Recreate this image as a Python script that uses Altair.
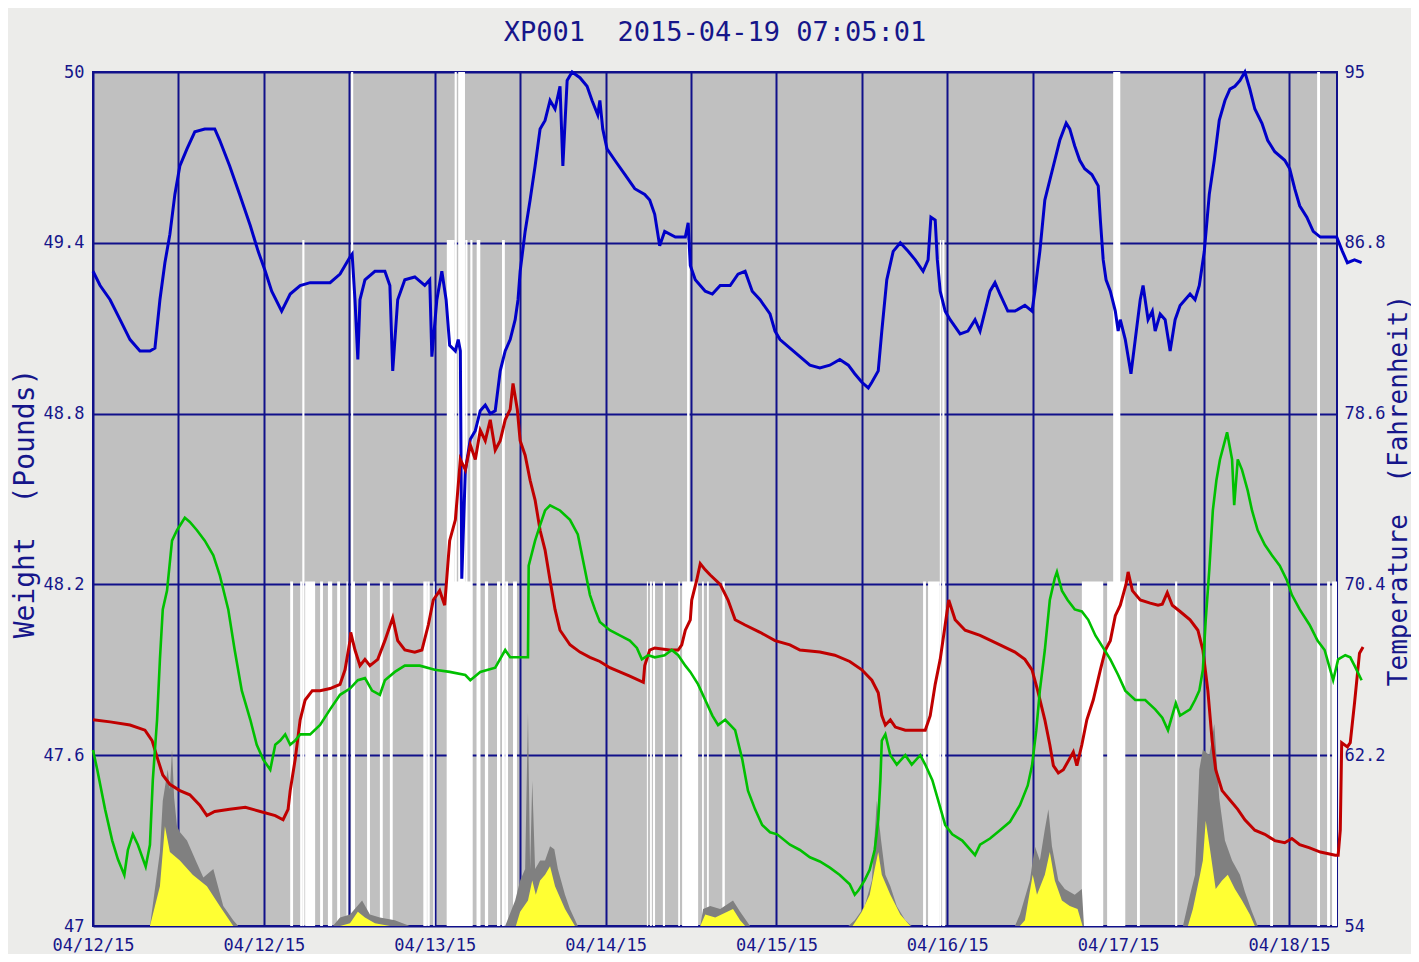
import json
import altair as alt
import pandas as pd

# ---------------- data ----------------
NBSP = "\u00a0"
title_text = "XP001" + NBSP + NBSP + "2015-04-19" + NBSP + "07:05:01"
left_title = "Weight" + NBSP + NBSP + "(Pounds)"
right_title = "Temperature" + NBSP + NBSP + "(Fahrenheit)"
x_tick_labels = ["04/12/15", "04/12/15", "04/13/15", "04/14/15",
                 "04/15/15", "04/16/15", "04/17/15", "04/18/15"]
grid_hours = [0, 12, 24, 36, 48, 60, 72, 84, 96, 108, 120, 132, 144, 156, 168]
w_ticks = [47, 47.6, 48.2, 48.8, 49.4, 50]
t_ticks = [54, 62.2, 70.4, 78.6, 86.8, 95]

# weight (pounds), hours since start
blue_h = [0.0, 1.0, 2.4, 3.8, 5.2, 6.6, 8.0, 8.7, 9.4, 10.1, 10.8, 11.5, 12.2, 13.2, 14.3, 15.7,
          17.1, 17.8, 19.2, 20.6, 22.1, 23.2, 24.2, 25.1, 26.5, 27.7, 29.1, 30.5, 31.9, 33.3,
          34.7, 36.1, 36.4, 36.8, 37.2, 37.5, 38.2, 39.6, 41.0, 41.7, 42.1, 42.8, 43.8, 45.2,
          46.6, 47.3, 47.6, 48.3, 49.0, 49.6, 50.1, 50.9, 51.3, 51.6, 51.8, 52.3, 53.0, 53.7,
          54.4, 55.1, 55.8, 56.5, 57.2, 57.9, 58.6, 59.3, 59.7, 60.0, 60.7, 61.4, 62.1, 62.8,
          63.5, 64.2, 64.9, 65.6, 66.0, 66.6, 67.3, 68.4, 69.4, 70.1, 70.9, 71.2, 71.6, 72.2,
          73.3, 74.7, 76.1, 77.5, 78.2, 78.9, 79.6, 80.3, 81.8, 83.2, 83.6, 83.9, 84.6, 86.0,
          87.0, 88.1, 89.5, 90.6, 91.6, 92.6, 93.7, 95.1, 95.8, 96.5, 97.9, 99.3, 100.7, 102.1,
          103.5, 104.9, 106.1, 107.0, 108.0, 108.9, 109.4, 110.3, 110.8, 111.5, 112.4, 113.4,
          114.5, 115.5, 116.6, 117.3, 117.7, 118.3, 118.6, 119.0, 119.7, 120.4, 121.8, 122.9,
          123.9, 124.6, 126.0, 126.7, 127.4, 128.5, 129.5, 130.9, 131.9, 132.3, 133.0, 133.7,
          134.4, 135.1, 135.8, 136.7, 137.2, 137.9, 138.6, 139.3, 140.3, 141.2, 141.5, 141.9,
          142.3, 142.9, 143.6, 144.0, 144.3, 145.0, 145.8, 146.4, 147.1, 147.5, 148.2, 148.8,
          149.2, 149.9, 150.6, 151.3, 152.0, 152.7, 153.4, 154.1, 154.8, 155.4, 156.1, 156.8,
          157.5, 158.2, 159.0, 159.7, 160.4, 161.1, 161.8, 162.5, 163.2, 164.2, 165.0, 166.0,
          167.4, 168.1, 168.8, 169.5, 170.5, 171.4, 172.4, 173.5, 174.7, 175.5, 176.2, 177.2,
          178.2]
blue_w = [49.30, 49.25, 49.20, 49.13, 49.06, 49.02, 49.02, 49.03, 49.20, 49.33, 49.43, 49.57,
          49.67, 49.73, 49.79, 49.80, 49.80, 49.76, 49.67, 49.57, 49.46, 49.37, 49.30, 49.23,
          49.16, 49.22, 49.25, 49.26, 49.26, 49.26, 49.29, 49.35, 49.36, 49.20, 48.99, 49.20,
          49.27, 49.30, 49.30, 49.25, 48.95, 49.20, 49.27, 49.28, 49.25, 49.27, 49.00, 49.20,
          49.30, 49.20, 49.04, 49.02, 49.06, 49.02, 48.22, 48.60, 48.71, 48.74, 48.81, 48.83,
          48.80, 48.81, 48.95, 49.02, 49.06, 49.13, 49.20, 49.30, 49.44, 49.55, 49.67, 49.80,
          49.83, 49.90, 49.87, 49.95, 49.67, 49.97, 50.00, 49.98, 49.95, 49.90, 49.85, 49.90,
          49.80, 49.73, 49.69, 49.64, 49.59, 49.57, 49.55, 49.50, 49.39, 49.44, 49.42, 49.42,
          49.47, 49.32, 49.27, 49.23, 49.22, 49.25, 49.25, 49.29, 49.30, 49.23, 49.20, 49.15,
          49.09, 49.06, 49.03, 49.00, 48.97, 48.96, 48.97, 48.99, 48.97, 48.94, 48.91, 48.89,
          48.91, 48.95, 49.09, 49.27, 49.37, 49.40, 49.37, 49.34, 49.30, 49.34, 49.49, 49.48,
          49.34, 49.23, 49.16, 49.13, 49.08, 49.09, 49.13, 49.09, 49.23, 49.26, 49.22, 49.16,
          49.16, 49.18, 49.16, 49.23, 49.37, 49.55, 49.62, 49.69, 49.76, 49.82, 49.80, 49.74,
          49.69, 49.66, 49.64, 49.60, 49.48, 49.34, 49.27, 49.23, 49.16, 49.09, 49.13, 49.06,
          48.94, 49.06, 49.20, 49.25, 49.13, 49.16, 49.09, 49.15, 49.13, 49.02, 49.13, 49.18,
          49.20, 49.22, 49.20, 49.25, 49.37, 49.57, 49.69, 49.83, 49.90, 49.94, 49.95, 49.97,
          50.00, 49.94, 49.87, 49.82, 49.76, 49.72, 49.69, 49.66, 49.59, 49.53, 49.49, 49.44,
          49.42, 49.42, 49.42, 49.37, 49.33, 49.34, 49.33]

# temperature (F) red series
red_h = [0.0, 2.4, 5.2, 7.3, 8.3, 9.1, 9.8, 10.8, 12.2, 13.6, 15.0, 16.0, 17.1, 19.2, 21.4,
         23.5, 25.6, 26.7, 27.4, 27.7, 28.4, 29.1, 29.8, 30.8, 31.9, 33.3, 34.7, 35.4, 36.1,
         36.2, 36.8, 37.5, 38.2, 38.9, 40.0, 41.0, 42.1, 42.8, 43.8, 45.2, 46.2, 47.1, 47.8,
         48.7, 49.4, 50.1, 50.9, 51.6, 52.3, 53.0, 53.7, 54.4, 55.1, 55.8, 56.5, 57.2, 57.9,
         58.6, 59.0, 59.6, 60.0, 60.7, 61.4, 62.1, 62.8, 63.5, 64.2, 64.9, 65.6, 67.0, 68.4,
         69.8, 71.2, 72.6, 74.0, 75.4, 77.3, 77.5, 78.2, 78.9, 81.0, 82.2, 82.7, 83.2, 83.9,
         84.1, 84.8, 85.3, 86.0, 86.7, 88.1, 89.2, 90.2, 91.6, 93.7, 95.8, 97.9, 99.3, 102.1,
         104.2, 106.3, 108.0, 109.4, 110.3, 110.8, 111.3, 112.0, 112.7, 114.1, 115.5, 116.9,
         117.6, 118.3, 119.0, 119.7, 120.2, 121.1, 122.5, 124.6, 127.4, 129.5, 130.9, 131.9,
         132.7, 133.7, 134.4, 134.9, 135.6, 136.3, 137.7, 138.2, 138.9, 139.6, 140.5, 141.5,
         142.2, 142.9, 143.6, 144.3, 145.1, 145.4, 146.0, 147.1, 148.5, 149.6, 150.2, 150.9,
         151.6, 152.7, 154.1, 155.2, 155.9, 156.6, 157.2, 157.7, 158.6, 159.7, 160.8, 161.8,
         163.2, 164.6, 166.0, 167.4, 168.4, 169.5, 170.9, 172.4, 174.5, 174.9, 175.2, 175.4,
         176.2, 176.6, 177.2, 177.9, 178.4]
red_t = [63.9, 63.8, 63.65, 63.4, 62.9, 62.0, 61.25, 60.8, 60.5, 60.3, 59.8, 59.3, 59.5, 59.6,
         59.7, 59.5, 59.3, 59.1, 59.6, 60.5, 62.0, 63.9, 64.85, 65.3, 65.3, 65.4, 65.6, 66.3,
         67.7, 68.1, 67.25, 66.5, 66.8, 66.5, 66.8, 67.7, 68.8, 67.7, 67.25, 67.15, 67.25, 68.45,
         69.65, 70.1, 69.4, 72.5, 73.5, 76.4, 75.9, 77.1, 76.4, 77.8, 77.3, 78.3, 76.85, 77.3,
         78.3, 78.8, 80.05, 78.8, 77.3, 76.6, 75.4, 74.45, 73.0, 72.05, 70.6, 69.2, 68.2, 67.5,
         67.15, 66.9, 66.7, 66.4, 66.2, 66.0, 65.7, 66.5, 67.25, 67.35, 67.25, 67.25, 67.5, 68.2,
         68.7, 69.65, 70.6, 71.4, 71.1, 70.85, 70.4, 69.65, 68.7, 68.45, 68.1, 67.7, 67.5, 67.25,
         67.15, 67.0, 66.7, 66.3, 65.8, 65.2, 64.1, 63.65, 63.9, 63.55, 63.4, 63.4, 63.4, 64.1,
         65.6, 66.8, 68.45, 69.65, 68.7, 68.2, 67.95, 67.5, 67.15, 66.8, 66.3, 65.3, 63.9, 62.7,
         61.7, 61.35, 61.5, 62.35, 61.7, 62.7, 63.9, 64.85, 66.3, 67.25, 67.7, 68.9, 69.4, 70.4,
         71.0, 70.1, 69.65, 69.5, 69.4, 69.45, 70.0, 69.4, 69.1, 68.7, 68.2, 67.25, 65.3, 62.9,
         61.5, 60.5, 60.05, 59.6, 59.1, 58.6, 58.4, 58.1, 58.0, 58.2, 57.9, 57.75, 57.55, 57.4,
         57.4, 58.6, 62.8, 62.6, 62.8, 64.7, 67.1, 67.4]

# temperature (F) green series
green_h = [0.0, 0.6, 1.7, 2.7, 3.5, 4.4, 4.9, 5.6, 6.3, 7.4, 8.0, 8.4, 9.0, 9.4, 9.8, 10.4,
           11.1, 11.8, 12.9, 13.6, 14.6, 15.7, 16.9, 17.8, 19.0, 19.9, 20.9, 22.1, 23.0, 23.9,
           24.9, 25.6, 26.3, 27.0, 27.7, 28.4, 29.1, 30.5, 31.9, 33.3, 34.7, 36.1, 37.2, 38.2,
           39.2, 40.3, 41.0, 42.4, 43.8, 45.9, 48.0, 50.1, 52.3, 53.0, 54.4, 56.5, 57.9, 58.6,
           60.0, 61.1, 61.2, 62.1, 62.8, 63.5, 64.2, 65.6, 67.0, 68.1, 69.1, 69.8, 70.5, 71.2,
           72.6, 74.0, 75.4, 76.4, 77.1, 78.0, 78.9, 80.3, 81.3, 82.2, 83.2, 83.9, 85.0, 86.0,
           87.0, 87.8, 88.8, 90.2, 91.2, 92.0, 93.0, 94.0, 95.1, 96.1, 97.9, 99.3, 100.7, 102.1,
           103.5, 104.9, 106.3, 107.0, 107.5, 108.4, 109.1, 109.8, 110.3, 110.6, 110.8, 111.3,
           112.0, 112.9, 114.1, 115.0, 116.2, 116.9, 117.9, 118.7, 119.7, 120.7, 122.1, 123.9,
           124.6, 126.0, 127.4, 128.8, 130.2, 131.3, 131.9, 132.5, 133.0, 133.7, 134.4, 135.1,
           135.4, 136.1, 136.9, 137.9, 138.9, 139.8, 140.8, 141.9, 142.9, 144.0, 145.0, 146.4,
           147.8, 149.2, 150.2, 151.0, 152.1, 152.7, 154.1, 154.8, 155.4, 155.9, 156.3, 156.8,
           157.3, 157.8, 158.3, 159.0, 159.3, 160.0, 160.3, 160.8, 161.4, 162.2, 162.8, 163.6,
           164.6, 165.6, 166.7, 167.7, 168.4, 169.5, 170.9, 172.0, 173.0, 174.2, 174.9, 175.9,
           176.6, 177.2, 178.2]
green_t = [62.45, 61.5, 59.6, 58.1, 57.2, 56.45, 57.65, 58.4, 57.9, 56.85, 57.9, 61.0, 63.9,
           66.8, 69.2, 70.1, 72.5, 73.0, 73.6, 73.4, 73.0, 72.5, 71.8, 70.85, 69.2, 67.25, 65.3,
           63.9, 62.7, 62.0, 61.5, 62.7, 62.9, 63.2, 62.7, 62.9, 63.2, 63.2, 63.65, 64.4, 65.1,
           65.4, 65.8, 65.9, 65.3, 65.1, 65.8, 66.2, 66.5, 66.5, 66.3, 66.2, 66.05, 65.8, 66.2,
           66.4, 67.25, 66.9, 66.9, 66.9, 71.3, 72.5, 73.25, 73.95, 74.2, 73.95, 73.5, 72.8, 71.1,
           69.9, 69.2, 68.6, 68.2, 67.95, 67.7, 67.35, 66.8, 67.0, 66.9, 67.0, 67.25, 67.0, 66.5,
           66.2, 65.6, 64.85, 64.1, 63.65, 63.9, 63.4, 62.0, 60.5, 59.6, 58.85, 58.5, 58.4, 57.9,
           57.65, 57.3, 57.1, 56.8, 56.45, 56.0, 55.5, 55.7, 56.2, 56.7, 57.65, 59.1, 61.0, 62.9,
           63.2, 62.2, 61.75, 62.2, 61.75, 62.2, 61.75, 61.0, 60.05, 58.85, 58.4, 58.1, 57.4,
           57.9, 58.2, 58.6, 59.0, 59.8, 60.75, 61.7, 63.4, 65.3, 67.25, 69.65, 70.7, 71.0, 70.1,
           69.65, 69.2, 69.1, 68.7, 67.95, 67.35, 66.8, 66.05, 65.3, 64.85, 64.85, 64.4, 64.0,
           63.4, 64.7, 64.1, 64.4, 64.85, 65.3, 66.3, 68.7, 71.1, 73.95, 75.4, 76.4, 77.3, 77.7,
           76.4, 74.2, 76.4, 75.9, 74.9, 73.95, 73.0, 72.3, 71.8, 71.3, 70.6, 69.9, 69.2, 68.45,
           67.7, 67.25, 65.8, 66.8, 67.0, 66.9, 66.5, 65.8]

# gray envelope (drawn on the weight scale)
gray_h = [0.0, 8.0, 9.4, 9.8, 10.5, 10.8, 11.1, 11.4, 11.8, 12.2, 13.2, 14.6, 15.5, 16.9, 18.3,
          19.7, 20.4, 33.7, 34.7, 36.1, 37.8, 38.9, 40.3, 42.4, 44.5, 57.9, 59.3, 60.0, 60.7,
          61.1, 61.4, 61.7, 62.1, 62.8, 63.5, 64.2, 64.8, 65.3, 66.3, 67.0, 68.1, 85.3, 85.7,
          86.7, 88.1, 89.9, 90.9, 92.3, 106.1, 107.0, 108.4, 109.4, 110.1, 110.7, 111.3, 112.0,
          112.9, 114.1, 115.0, 129.5, 130.2, 131.6, 132.3, 133.0, 133.7, 134.2, 134.7, 135.6,
          136.5, 137.9, 138.9, 139.2, 153.1, 154.1, 154.8, 155.4, 155.9, 156.8, 157.5, 158.2,
          159.0, 160.0, 161.1, 161.8, 162.8, 163.6, 174.7]
gray_v = [47.0, 47.0, 47.26, 47.44, 47.55, 47.48, 47.62, 47.45, 47.35, 47.33, 47.30, 47.22, 47.17,
          47.20, 47.07, 47.02, 47.0, 47.0, 47.03, 47.04, 47.09, 47.04, 47.03, 47.02, 47.0, 47.0,
          47.09, 47.16, 47.20, 47.75, 47.20, 47.51, 47.20, 47.23, 47.23, 47.28, 47.27, 47.20,
          47.11, 47.06, 47.0, 47.0, 47.06, 47.07, 47.06, 47.09, 47.05, 47.0, 47.0, 47.02, 47.07,
          47.16, 47.44, 47.30, 47.18, 47.14, 47.07, 47.02, 47.0, 47.0, 47.04, 47.16, 47.28,
          47.23, 47.34, 47.41, 47.28, 47.16, 47.13, 47.11, 47.13, 47.0, 47.0, 47.11, 47.18, 47.55,
          47.62, 47.60, 47.71, 47.45, 47.30, 47.23, 47.18, 47.12, 47.05, 47.0, 47.0]

# yellow envelope (drawn on the weight scale)
yellow_h = [0.0, 8.0, 9.4, 10.1, 10.8, 12.2, 14.0, 16.0, 17.8, 19.7, 34.7, 36.1, 37.2, 38.2,
            39.6, 41.7, 59.4, 60.0, 61.1, 61.7, 62.2, 62.8, 63.5, 64.2, 64.9, 66.3, 67.7, 85.3,
            86.0, 87.4, 89.9, 90.9, 91.6, 106.7, 108.0, 109.1, 109.8, 110.3, 110.8, 112.0, 113.4,
            114.8, 130.2, 130.9, 132.0, 132.6, 133.7, 134.4, 135.1, 136.1, 137.2, 138.3, 139.0,
            153.8, 154.5, 155.5, 155.9, 156.3, 156.9, 157.7, 158.6, 159.4, 160.4, 161.4, 162.5,
            163.2, 174.7]
yellow_v = [47.0, 47.0, 47.14, 47.35, 47.26, 47.23, 47.18, 47.14, 47.07, 47.0, 47.0, 47.01, 47.05,
            47.03, 47.01, 47.0, 47.0, 47.05, 47.09, 47.16, 47.11, 47.16, 47.18, 47.21, 47.14,
            47.06, 47.0, 47.0, 47.04, 47.03, 47.06, 47.02, 47.0, 47.0, 47.05, 47.11, 47.20, 47.26,
            47.18, 47.11, 47.04, 47.0, 47.0, 47.02, 47.18, 47.11, 47.18, 47.26, 47.16, 47.09,
            47.07, 47.06, 47.0, 47.0, 47.06, 47.18, 47.23, 47.37, 47.27, 47.13, 47.16, 47.18,
            47.13, 47.09, 47.04, 47.0, 47.0]

# missing-data intervals (hours) and the weight level they reach up to
gap_start = [36.25, 50.8, 51.3, 143.3, 171.95,
             29.4, 49.7, 52.3, 53.0, 53.9, 57.45, 83.45, 118.95, 119.3,
             27.7, 29.1, 29.8, 31.9, 33.0, 34.3, 35.6, 36.5, 38.5, 40.3, 41.7, 46.4, 46.95, 47.8,
             49.7, 53.9, 55.05, 56.75, 57.9, 59.0, 77.8, 78.25, 78.65, 80.05, 82.2, 82.75, 85.55,
             86.25, 88.4, 116.6, 117.3, 119.3, 138.9, 142.45, 146.65, 152.0, 165.35, 173.35,
             174.05]
gap_end = [36.55, 51.1, 52.25, 144.3, 172.35,
           29.7, 50.8, 52.6, 53.3, 54.4, 57.85, 83.8, 119.15, 119.6,
           28.1, 29.4, 31.2, 32.3, 33.6, 34.7, 35.8, 36.8, 38.9, 40.7, 42.1, 46.9, 47.3, 48.0,
           53.3, 54.4, 55.5, 57.2, 58.3, 59.55, 77.95, 78.5, 78.95, 80.35, 82.45, 85.0, 85.8,
           86.5, 88.75, 117.0, 118.95, 119.7, 141.9, 145.0, 147.05, 152.3, 165.75, 173.75,
           174.74]
gap_top = [50.0] * 5 + [49.41] * 9 + [48.21] * 39

# ---------------- styling ----------------
NAVY = "#16168a"
GRID = "#10108a"
FONT = "DejaVu Sans Mono"
X_END = 174.74

blue_df = pd.DataFrame({"h": blue_h, "v": blue_w})
gray_df = pd.DataFrame({"h": gray_h, "v": gray_v})
yellow_df = pd.DataFrame({"h": yellow_h, "v": yellow_v})
gap_df = pd.DataFrame({"h": gap_start, "h2": gap_end, "v": gap_top})
red_df = pd.DataFrame({"h": red_h, "t": red_t})
green_df = pd.DataFrame({"h": green_h, "t": green_t})
title_df = pd.DataFrame({"label": [title_text]})

label_arr = json.dumps(x_tick_labels)
x_enc = alt.X(
    "h:Q",
    scale=alt.Scale(domain=[0, X_END], nice=False, zero=False),
    axis=alt.Axis(
        values=grid_hours,
        labelExpr=f"datum.value % 24 === 0 ? {label_arr}[datum.value / 24] : ''",
        grid=True, gridColor=GRID, gridWidth=2, gridOpacity=1,
        ticks=False, domain=False, labelFlush=False, labelOverlap=False,
        labelFont=FONT, labelFontSize=17, labelColor=NAVY, labelPadding=11,
        title=None,
    ),
)

w_enc = alt.Y(
    "v:Q",
    scale=alt.Scale(domain=[47, 50], nice=False, zero=False),
    axis=alt.Axis(
        values=w_ticks, format=".1~f",
        grid=True, gridColor=GRID, gridWidth=2, gridOpacity=1,
        ticks=False, domain=False,
        labelFont=FONT, labelFontSize=17, labelColor=NAVY, labelPadding=9,
        title=left_title, titleFont=FONT, titleFontSize=28,
        titleFontWeight="normal", titleColor=NAVY,
        titleAngle=270, titleX=-68, titleY=431,
        titleAlign="center", titleBaseline="middle",
    ),
)

t_enc = alt.Y(
    "t:Q",
    scale=alt.Scale(domain=[54, 95], nice=False, zero=False),
    axis=alt.Axis(
        orient="right", values=t_ticks, format=".1~f",
        grid=False, ticks=False, domain=False,
        labelFont=FONT, labelFontSize=17, labelColor=NAVY, labelPadding=7,
        title=right_title, titleFont=FONT, titleFontSize=26,
        titleFontWeight="normal", titleColor=NAVY,
        titleAngle=270, titleX=61, titleY=418,
        titleAlign="center", titleBaseline="middle",
    ),
)

gaps = alt.Chart(gap_df).mark_rect(color="white", opacity=1).encode(
    x=x_enc, x2="h2:Q", y=w_enc, y2=alt.datum(47)
)
gray_area = alt.Chart(gray_df).mark_area(color="#808080", opacity=1).encode(
    x=x_enc, y=w_enc, y2=alt.datum(47)
)
yellow_area = alt.Chart(yellow_df).mark_area(color="#FFFF33", opacity=1).encode(
    x=x_enc, y=w_enc, y2=alt.datum(47)
)
blue_line = alt.Chart(blue_df).mark_line(color="#0000C8", strokeWidth=3).encode(
    x=x_enc, y=w_enc
)
red_line = alt.Chart(red_df).mark_line(color="#C00000", strokeWidth=3).encode(
    x=x_enc, y=t_enc
)
green_line = alt.Chart(green_df).mark_line(color="#00C000", strokeWidth=2.6).encode(
    x=x_enc, y=t_enc
)
title_mark = alt.Chart(title_df).mark_text(
    font=FONT, fontSize=27, color=NAVY, align="center", baseline="middle"
).encode(text="label:N", x=alt.value(622), y=alt.value(-39))

weight_group = alt.layer(gaps, gray_area, yellow_area, blue_line)
temp_group = alt.layer(red_line, green_line, title_mark)

chart = (
    alt.layer(weight_group, temp_group)
    .resolve_scale(y="independent")
    .properties(
        width=1244,
        height=854,
        autosize=alt.AutoSizeParams(type="none"),
        padding={"left": 85, "top": 64, "right": 74, "bottom": 28},
        background="#ECECEA",
    )
    .configure_view(fill="#C0C0C0", stroke=GRID, strokeWidth=2)
)

chart.save("out.html", embed_options={"renderer": "svg", "actions": False})
